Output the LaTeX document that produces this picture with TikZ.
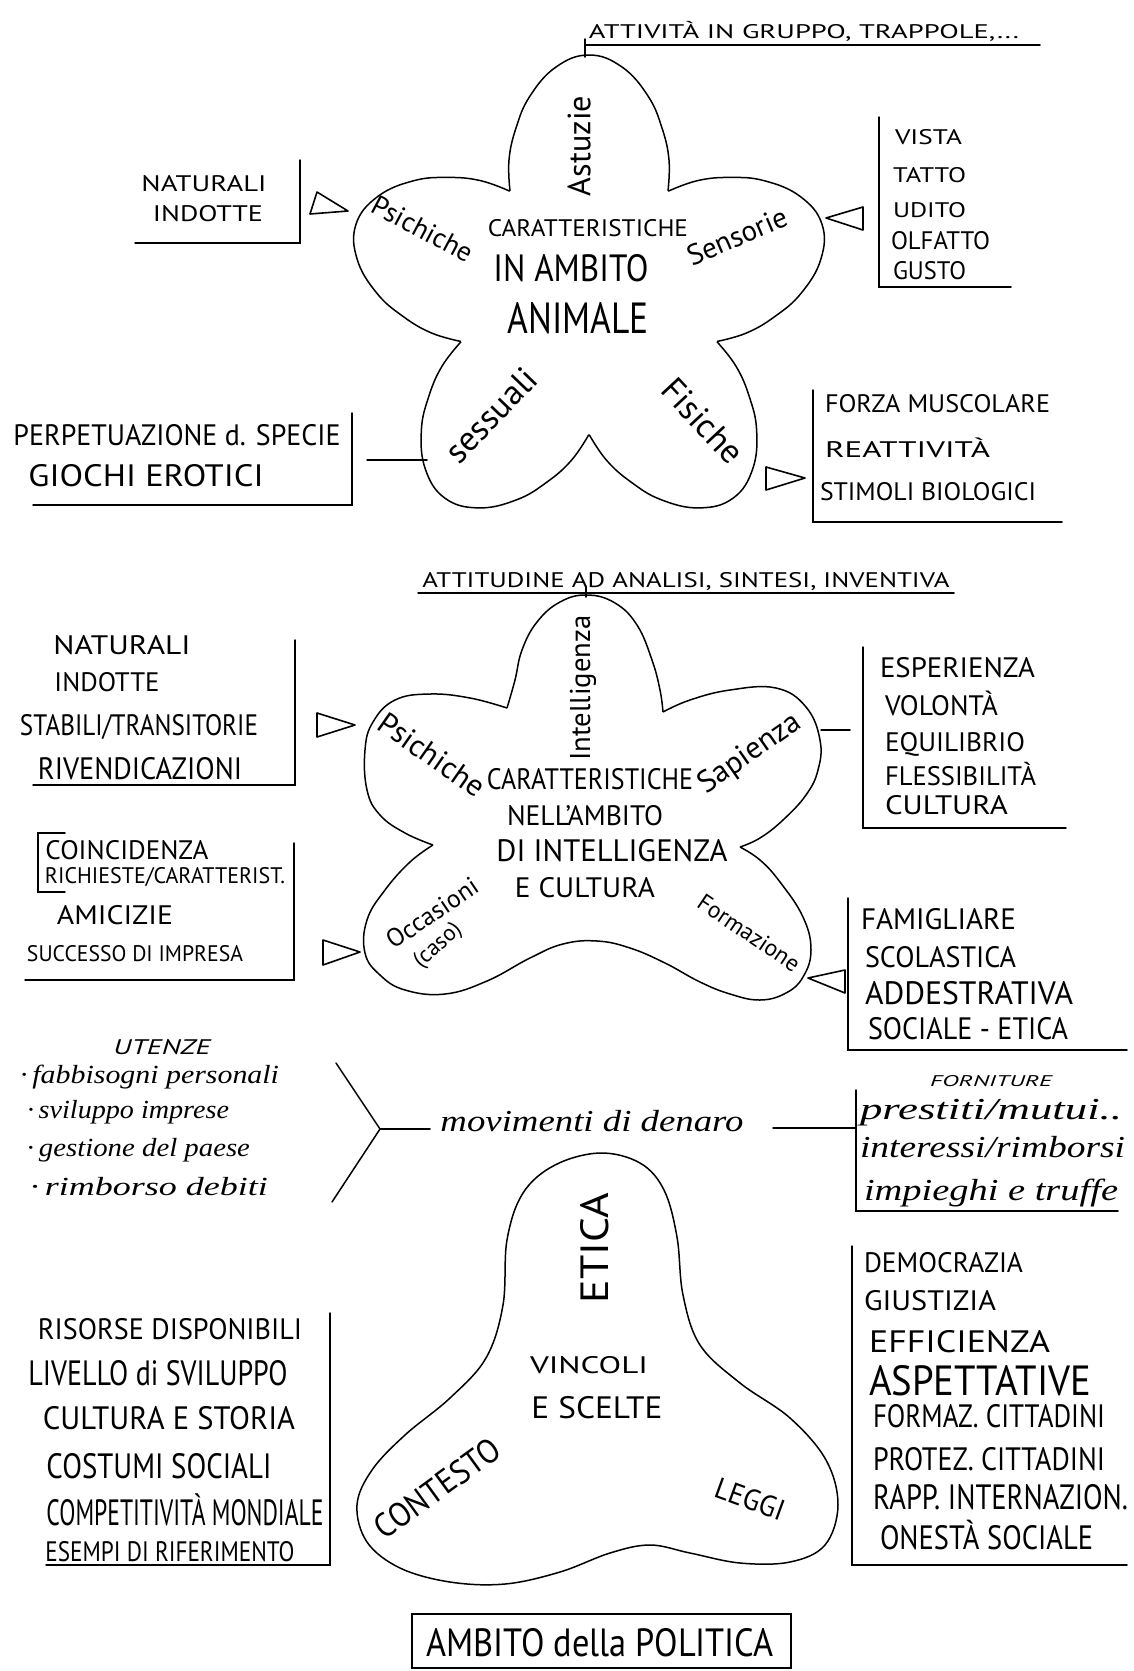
\documentclass[tikz,border=0pt]{standalone}
\usepackage{fontspec}
\usepackage{graphicx}
\setmainfont{PT Sans}
\newfontfamily\handfont{Liberation Serif}
% fit text: width W, cap height H
\newcommand{\cf}[3]{\resizebox{#1pt}{#2pt}{\smash{#3}\vphantom{A}}}
% fit text: width W, x-height H
\newcommand{\xf}[3]{\resizebox{#1pt}{#2pt}{\smash{#3}\vphantom{x}}}
% fit text: width W, uniform scale
\newcommand{\wf}[2]{\resizebox{#1pt}{!}{#2}}
\begin{document}
\begin{tikzpicture}[x=1pt,y=-1pt,
  tx/.style={inner sep=0pt,outer sep=0pt},
  hw/.style={inner sep=0pt,outer sep=0pt,font=\handfont\itshape},
  petal/.style={line width=1.5pt,line join=round},
  tri/.style={line width=1.6pt,line join=round},
  ln/.style={line width=1.5pt,line cap=round}]
\fill[white] (0,0) rectangle (1133,1671);
\useasboundingbox (0,0) rectangle (1133,1671);

%================ SECTION 1 ================
\node[tx] (att) at (804,31) {\cf{430}{14}{ATTIVITÀ IN GRUPPO, TRAPPOLE,...}};
\coordinate (ulA) at (585,45); \coordinate (ulB) at (1040,45);
\draw[ln] (ulA) -- (ulB);
\coordinate (tkA) at (585,39); \coordinate (tkB) at (585,57);
\draw[ln] (tkA) -- (tkB);

\foreach \a in {0,72,144,216,288}
  \draw[petal,shift={(589,300)},rotate=\a] plot[smooth,tension=0.7] coordinates
   {(-79,-109) (-80,-140) (-73,-172) (-59,-204) (-33,-233) (0,-245) (33,-233) (59,-204) (73,-172) (80,-140) (79,-109)};

\node[tx,rotate=90] (astuzie) at (579,146) {\wf{100}{Astuzie}};
\node[tx,rotate=-28] (psi1) at (423,229) {\wf{110}{Psichiche}};
\node[tx,rotate=23] (sens) at (737,236) {\wf{106}{Sensorie}};
\node[tx] (car1) at (588,228) {\cf{200}{17}{CARATTERISTICHE}};
\node[tx] (amb1) at (571,268) {\cf{155}{27}{IN AMBITO}};
\node[tx] (ani) at (578,318) {\cf{141}{31}{ANIMALE}};
\node[tx,rotate=46] (sess) at (491,415) {\wf{116}{sessuali}};
\node[tx,rotate=-47] (fis) at (703,421) {\wf{102}{Fisiche}};

% left top box
\node[tx] (nat1) at (204,183) {\cf{125}{16}{NATURALI}};
\node[tx] (ind1) at (208,213) {\cf{110}{16}{INDOTTE}};
\draw[ln] (300,160) -- (300,243) -- (135,243);
\draw[tri] (317,192) -- (348,211) -- (310,214) -- cycle;

% right top box
\draw[ln] (879,117) -- (879,287) -- (1011,287);
\node[tx,anchor=west] (vista) at (895,137) {\cf{67}{15}{VISTA}};
\node[tx,anchor=west] (tatto) at (893,175) {\cf{73}{15}{TATTO}};
\node[tx,anchor=west] (udito) at (893,210) {\cf{73}{15}{UDITO}};
\node[tx,anchor=west] (olf) at (891,240) {\cf{99}{18}{OLFATTO}};
\node[tx,anchor=west] (gusto) at (893,270) {\cf{73}{18}{GUSTO}};
\draw[tri] (826,218) -- (863,207) -- (863,230) -- cycle;

% bottom-left box
\node[tx] (perp) at (177,435) {\cf{327}{21}{PERPETUAZIONE d. SPECIE}};
\node[tx] (gioc) at (146,475) {\cf{235}{22}{GIOCHI EROTICI}};
\draw[ln] (352,413) -- (352,505) -- (33,505);
\coordinate (cA) at (367,460); \coordinate (cB) at (427,460);
\draw[ln] (cA) -- (cB);

% bottom-right box
\draw[ln] (813,390) -- (813,522) -- (1062,522);
\node[tx,anchor=west] (forza) at (825,403) {\cf{225}{18}{FORZA MUSCOLARE}};
\node[tx,anchor=west] (reatt) at (825,449) {\cf{165}{16}{REATTIVITÀ}};
\node[tx,anchor=west] (stim) at (820,491) {\cf{216}{18}{STIMOLI BIOLOGICI}};
\draw[tri] (766,467) -- (805,478) -- (766,490) -- cycle;

%================ SECTION 2 ================
\node[tx] (att2) at (686,580) {\cf{527}{15}{ATTITUDINE AD ANALISI, SINTESI, INVENTIVA}};
\draw[ln] (418,593) -- (954,593);
\draw[ln] (586,587) -- (586,597);

\draw[petal] plot[smooth,tension=0.7] coordinates {(507,708) (515,680) (522,650) (537,622) (560,602) (587,595) (615,603) (637,625) (652,660) (660,690) (663,712)};
\draw[petal] plot[smooth,tension=0.7] coordinates {(663,712) (690,700) (730,690) (776,688) (806,707) (820,740) (818,770) (806,795) (783,820) (760,838) (740,847)};
\draw[petal] plot[smooth,tension=0.7] coordinates {(740,847) (760,860) (780,882) (803,917) (811,950) (803,977) (786,993) (760,1000) (730,994) (700,982) (665,963) (630,948) (597,941) (563,944) (530,958) (487,981) (445,994) (405,990) (380,975) (365,953) (367,920) (385,890) (410,862) (433,845)};
\draw[petal] plot[smooth,tension=0.7] coordinates {(433,845) (405,833) (380,815) (367,790) (365,750) (373,722) (395,700) (430,694) (470,698) (507,708)};

\node[tx,rotate=90] (intel) at (583,688) {\wf{145}{Intelligenza}};
\node[tx,rotate=-35] (psi2) at (432,755) {\wf{122}{Psichiche}};
\node[tx] (car2) at (590,779) {\cf{206}{21}{CARATTERISTICHE}};
\node[tx] (nell) at (585,815) {\cf{156}{20}{NELL’AMBITO}};
\node[tx] (diint) at (612,850) {\cf{231}{22}{DI INTELLIGENZA}};
\node[tx] (ecul) at (585,887) {\cf{140}{20}{E CULTURA}};
\node[tx,rotate=35] (sap) at (750,754) {\wf{118}{Sapienza}};
\node[tx,rotate=34] (occ) at (432,913) {\wf{105}{Occasioni}};
\node[tx,rotate=42] (caso) at (438,946) {\wf{56}{(caso)}};
\node[tx,rotate=-34] (form) at (749,933) {\wf{118}{Formazione}};

% left boxes
\node[tx] (nat2) at (122,645) {\cf{137}{19}{NATURALI}};
\node[tx] (ind2) at (107,682) {\cf{105}{19}{INDOTTE}};
\node[tx] (stab) at (139,725) {\cf{238}{21}{STABILI/TRANSITORIE}};
\node[tx] (riv) at (140,768) {\cf{204}{22}{RIVENDICAZIONI}};
\draw[ln] (295,640) -- (295,785) -- (33,785);
\draw[tri] (317,713) -- (355,725) -- (317,737) -- cycle;

\node[tx] (coin) at (127,850) {\cf{163}{19}{COINCIDENZA}};
\node[tx] (rich) at (165,875) {\cf{240}{16}{RICHIESTE/CARATTERIST.}};
\node[tx] (amic) at (115,915) {\cf{116}{19}{AMICIZIE}};
\node[tx] (succ) at (135,953) {\cf{216}{16}{SUCCESSO DI IMPRESA}};
\draw[ln] (294,843) -- (294,980) -- (25,980);
\draw[ln] (65,833) -- (38,833) -- (38,892) -- (65,892);
\draw[tri] (323,940) -- (360,952) -- (323,965) -- cycle;

% right boxes
\coordinate (sA) at (821,730); \coordinate (sB) at (850,730);
\draw[ln] (sA) -- (sB);
\draw[ln] (863,647) -- (863,828) -- (1066,828);
\node[tx,anchor=west] (esp) at (880,667) {\cf{155}{20}{ESPERIENZA}};
\node[tx,anchor=west] (vol) at (885,705) {\cf{113}{20}{VOLONTÀ}};
\node[tx,anchor=west] (equ) at (885,742) {\cf{140}{19}{EQUILIBRIO}};
\node[tx,anchor=west] (fle) at (885,776) {\cf{151}{19}{FLESSIBILITÀ}};
\node[tx,anchor=west] (cul) at (885,805) {\cf{123}{19}{CULTURA}};

\draw[tri] (808,978) -- (845,970) -- (845,993) -- cycle;
\draw[ln] (848,898) -- (848,1050) -- (1127,1050);
\node[tx,anchor=west] (fam) at (861,919) {\cf{155}{21}{FAMIGLIARE}};
\node[tx,anchor=west] (scol) at (865,957) {\cf{151}{21}{SCOLASTICA}};
\node[tx,anchor=west] (add) at (865,993) {\cf{208}{23}{ADDESTRATIVA}};
\node[tx,anchor=west] (soc) at (868,1028) {\cf{200}{22}{SOCIALE - ETICA}};

%================ SECTION 3 ================
\node[tx] (ute) at (162,1047) {\cf{97}{15}{\itshape UTENZE}};
\node[hw,anchor=west] (u1) at (20,1077) {\xf{259}{12}{·\,fabbisogni personali}};
\node[hw,anchor=west] (u2) at (27,1112) {\xf{202}{12}{·\,sviluppo imprese}};
\node[hw,anchor=west] (u3) at (27,1150) {\xf{223}{12}{·\,gestione del paese}};
\node[hw,anchor=west] (u4) at (30,1189) {\xf{238}{12}{·\,rimborso debiti}};

\coordinate (fA) at (336,1063); \coordinate (fV) at (380,1129);
\coordinate (fB) at (332,1202); \coordinate (fH) at (430,1129);
\draw[ln] (fA) -- (fV) -- (fB);
\draw[ln] (fV) -- (fH);
\node[hw] (mov) at (592,1124) {\xf{303}{14}{movimenti di denaro}};
\coordinate (rA) at (773,1128); \coordinate (rB) at (856,1128);
\draw[ln] (rA) -- (rB);

\node[tx] (forn) at (991,1081) {\cf{122}{11}{\itshape FORNITURE}};
\draw[ln] (856,1090) -- (856,1211) -- (1118,1211);
\node[hw,anchor=west] (p1) at (860,1112) {\xf{262}{14}{prestiti/mutui..}};
\node[hw,anchor=west] (p2) at (860,1150) {\xf{265}{14}{interessi/rimborsi}};
\node[hw,anchor=west] (p3) at (864,1193) {\xf{254}{14}{impieghi e truffe}};

% flower 3
\draw[petal] plot[smooth cycle,tension=0.6] coordinates {(600,1153) (640,1163) (664,1190) (677,1237) (683,1295) (700,1345) (740,1383) (790,1418) (826,1460) (838,1505) (825,1545) (790,1562) (740,1563) (690,1553) (650,1545) (610,1553) (560,1572) (505,1584) (450,1582) (400,1568) (367,1542) (357,1505) (372,1470) (405,1435) (450,1398) (486,1358) (503,1305) (507,1240) (523,1193) (555,1165)};
\node[tx,rotate=90] (etica) at (594,1248) {\cf{110}{28}{ETICA}};
\node[tx] (vinc) at (589,1365) {\cf{118}{17}{VINCOLI}};
\node[tx] (scel) at (597,1407) {\cf{131}{22}{E SCELTE}};
\node[tx,rotate=-20] (leggi) at (750,1499) {\cf{72}{21}{LEGGI}};
\node[tx,rotate=36] (cont) at (437,1488) {\cf{146}{24}{CONTESTO}};

% left lower box
\node[tx] (ris) at (170,1329) {\cf{264}{21}{RISORSE DISPONIBILI}};
\node[tx] (liv) at (158,1373) {\cf{259}{25}{LIVELLO di SVILUPPO}};
\node[tx] (cult) at (169,1418) {\cf{252}{23}{CULTURA E STORIA}};
\node[tx] (cost) at (159,1466) {\cf{225}{25}{COSTUMI SOCIALI}};
\node[tx] (comp) at (185,1512) {\cf{277}{26}{COMPETITIVITÀ MONDIALE}};
\node[tx] (esem) at (170,1551) {\cf{249}{20}{ESEMPI DI RIFERIMENTO}};
\draw[ln] (330,1313) -- (330,1565) -- (46,1565);

% right lower box
\draw[ln] (852,1246) -- (852,1565) -- (1127,1565);
\node[tx,anchor=west] (dem) at (864,1262) {\cf{159}{20}{DEMOCRAZIA}};
\node[tx,anchor=west] (giu) at (864,1300) {\cf{132}{20}{GIUSTIZIA}};
\node[tx,anchor=west] (eff) at (869,1341) {\cf{181}{22}{EFFICIENZA}};
\node[tx,anchor=west] (asp) at (869,1380) {\cf{222}{30}{ASPETTATIVE}};
\node[tx,anchor=west] (fcit) at (873,1416) {\cf{232}{23}{FORMAZ. CITTADINI}};
\node[tx,anchor=west] (pcit) at (873,1459) {\cf{232}{23}{PROTEZ. CITTADINI}};
\node[tx,anchor=west] (rapp) at (873,1497) {\cf{255}{25}{RAPP. INTERNAZION.}};
\node[tx,anchor=west] (one) at (880,1537) {\cf{213}{24}{ONESTÀ SOCIALE}};

% title box
\node[tx] (ambpol) at (600,1642) {\cf{347}{28}{AMBITO della POLITICA}};
\draw[ln] (412,1614) rectangle (791,1668);
\end{tikzpicture}
\end{document}
